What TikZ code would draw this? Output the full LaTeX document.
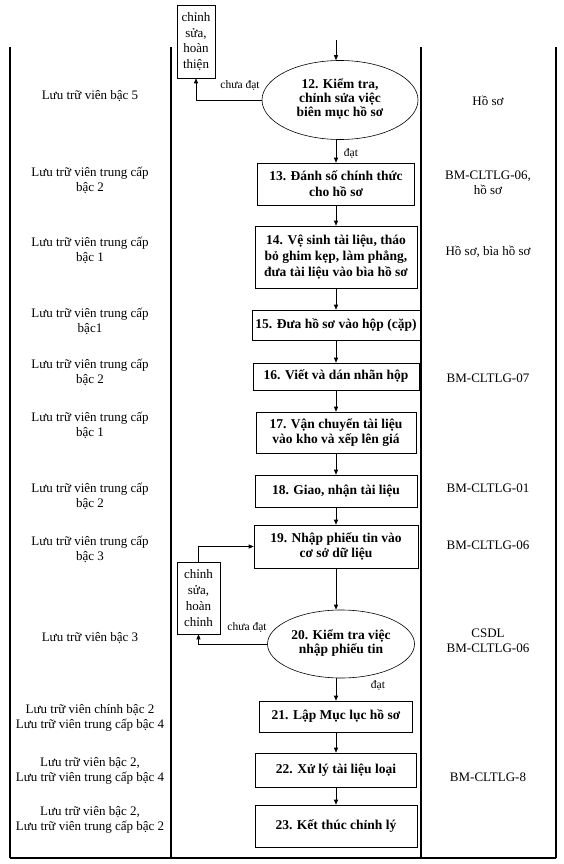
\documentclass[tikz,border=0pt]{standalone}
\usepackage{fontspec}
\setmainfont{Liberation Serif}
\usetikzlibrary{shapes.geometric,arrows.meta,calc}
\newcommand\ztab[1]{\makebox[0pt]{\begin{tabular}{@{}c@{}}#1\end{tabular}}}
\begin{document}
\begin{tikzpicture}[x=1pt,y=-1pt,
  box/.style={draw, line width=0.6pt, inner sep=0pt, align=center, font=\bfseries\fontsize{13.5}{15.8}\selectfont},
  ell/.style={draw, ellipse, line width=0.6pt, inner sep=0pt, font=\bfseries\fontsize{13.5}{13.8}\selectfont},
  side/.style={draw, line width=0.6pt, inner sep=0pt, align=center, font=\fontsize{13}{15.7}\selectfont},
  role/.style={align=center, font=\fontsize{13}{15}\selectfont},
  lbl/.style={font=\fontsize{11.5}{13}\selectfont},
  arr/.style={-{Triangle[length=5pt,width=4pt]}, line width=0.6pt},
  col/.style={line width=1.1pt}]
\fill[white] (0,0) rectangle (563,864);
\useasboundingbox (0,0) rectangle (563,864);
% columns
\draw[col] (10,47) -- (10,858);
\draw[col] (171,47) -- (171,858);
\draw[col] (421,47) -- (421,858);
\draw[col] (556,47) -- (556,858);
\draw[line width=1.6pt] (10,858) -- (556,858);
% roles
\node[role] (r12) at (90,96) {Lưu trữ viên bậc 5};
\node[role] (r13) at (90,180) {Lưu trữ viên trung cấp\\bậc 2};
\node[role] (r14) at (90,250) {Lưu trữ viên trung cấp\\bậc 1};
\node[role] (r15) at (90,321) {Lưu trữ viên trung cấp\\bậc1};
\node[role] (r16) at (90,372) {Lưu trữ viên trung cấp\\bậc 2};
\node[role] (r17) at (90,425) {Lưu trữ viên trung cấp\\bậc 1};
\node[role] (r18) at (90,496) {Lưu trữ viên trung cấp\\bậc 2};
\node[role] (r19) at (90,549) {Lưu trữ viên trung cấp\\bậc 3};
\node[role] (r20) at (90,638) {Lưu trữ viên bậc 3};
\node[role] (r21) at (90,718) {Lưu trữ viên chính bậc 2\\Lưu trữ viên trung cấp bậc 4};
\node[role] (r22) at (90,771) {Lưu trữ viên bậc 2,\\Lưu trữ viên trung cấp bậc 4};
\node[role] (r23) at (90,820) {Lưu trữ viên bậc 2,\\Lưu trữ viên trung cấp bậc 2};
% documents
\node[role] (d12) at (488,101) {Hồ sơ};
\node[role] (d13) at (488,183) {BM-CLTLG-06,\\hồ sơ};
\node[role] (d14) at (488,252) {Hồ sơ, bìa hồ sơ};
\node[role] (d16) at (488,378) {BM-CLTLG-07};
\node[role] (d18) at (488,488) {BM-CLTLG-01};
\node[role] (d19) at (488,545) {BM-CLTLG-06};
\node[role] (d20) at (488,641) {CSDL\\BM-CLTLG-06};
\node[role] (d22) at (488,777) {BM-CLTLG-8};
% flow
\node[ell, minimum width=156pt, minimum height=79pt] (e12) at (340,100) {\ztab{12. Kiểm tra,\\chỉnh sửa việc\\biên mục hồ sơ}};
\node[box, minimum width=157pt, minimum height=42pt] (b13) at (336,184) {13. Đánh số chính thức\\cho hồ sơ};
\node[box, minimum width=162pt, minimum height=62pt] (b14) at (336,257) {14. Vệ sinh tài liệu, tháo\\bỏ ghim kẹp, làm phẳng,\\đưa tài liệu vào bìa hồ sơ};
\node[box, minimum width=168pt, minimum height=30pt] (b15) at (336,325) {15. Đưa hồ sơ vào hộp (cặp)};
\node[box, minimum width=166pt, minimum height=27pt] (b16) at (336,376.5) {16. Viết và dán nhãn hộp};
\node[box, minimum width=160pt, minimum height=41pt] (b17) at (336,432.5) {17. Vận chuyển tài liệu\\vào kho và xếp lên giá};
\node[box, minimum width=162pt, minimum height=32pt] (b18) at (336,491) {18. Giao, nhận tài liệu};
\node[box, minimum width=164pt, minimum height=43pt] (b19) at (336,546.5) {19. Nhập phiếu tin vào\\cơ sở dữ liệu};
\node[ell, minimum width=147pt, minimum height=68pt] (e20) at (341,644) {\ztab{20. Kiểm tra việc\\nhập phiếu tin}};
\node[box, minimum width=153pt, minimum height=31pt] (b21) at (336,716.5) {21. Lập Mục lục hồ sơ};
\node[box, minimum width=161pt, minimum height=34pt] (b22) at (336,770) {22. Xử lý tài liệu loại};
\node[box, minimum width=162pt, minimum height=42pt] (b23) at (336,826) {23. Kết thúc chỉnh lý};
% side boxes
\node[side, minimum width=38pt, minimum height=73pt] (s12) at (196,41.5) {chỉnh\\sửa,\\hoàn\\thiện};
\node[side, minimum width=43pt, minimum height=72pt] (s20) at (198.5,598) {chỉnh\\sửa,\\hoàn\\chỉnh};
% labels
\node[lbl] (l12n) at (240,85) {chưa đạt};
\node[lbl] (l12y) at (351,153) {đạt};
\node[lbl] (l20n) at (247,627) {chưa đạt};
\node[lbl] (l20y) at (378,685) {đạt};
% connectors
\coordinate (in12) at (336,40);
\draw[arr] (in12) -- (in12 |- e12.north);
\draw[arr] (e12.south -| b13.north) -- (b13.north);
\draw[arr] (b13) -- (b14);
\draw[arr] (b14) -- (b15);
\draw[arr] (b15) -- (b16);
\draw[arr] (b16) -- (b17);
\draw[arr] (b17) -- (b18);
\draw[arr] (b18) -- (b19);
\draw[arr] (b19.south) -- (b19.south |- e20.north);
\draw[arr] (e20.south -| b21.north) -- (b21.north);
\draw[arr] (b21) -- (b22);
\draw[arr] (b22) -- (b23);
\draw[arr] (e12.west) -| (s12.south);
\draw[arr] (e20.west) -| (s20.south);
\draw[arr] (s20.north) |- (b19.west);
\end{tikzpicture}
\end{document}
